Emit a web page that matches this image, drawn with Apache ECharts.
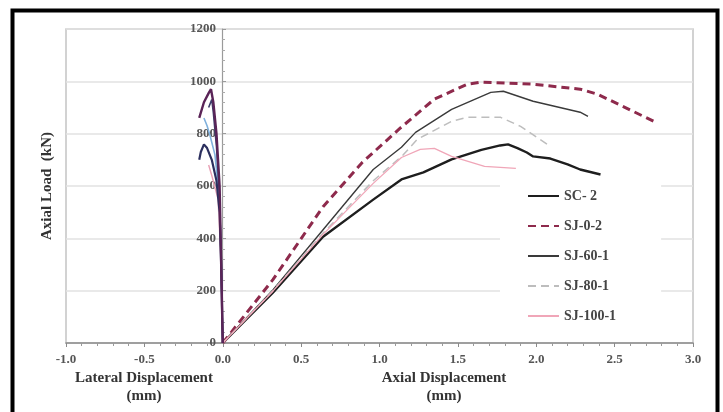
<!DOCTYPE html>
<html>
<head>
<meta charset="utf-8">
<script src="https://cdn.jsdelivr.net/npm/echarts@6/dist/echarts.min.js"></script>
<style>
  html, body { margin: 0; padding: 0; background: #fff; }
  #chart { width: 723px; height: 412px; }
</style>
</head>
<body>
<div id="chart"></div>
<script>
// axial curves (x = axial displacement mm, y = load kN)
var sc2 = [[0,0],[0.32,192],[0.64,406],[0.96,548],[1.14,625],[1.28,652],[1.46,702],[1.65,738],[1.77,755],[1.82,759],[1.88,745],[1.94,728],[1.98,713],[2.09,705],[2.2,683],[2.28,663],[2.41,644]];
var sj02 = [[0,0],[0.32,242],[0.64,521],[0.89,690],[1.13,820],[1.35,932],[1.56,989],[1.65,997],[1.98,989],[2.28,970],[2.39,951],[2.55,905],[2.75,847]];
var sj601 = [[0,0],[0.32,203],[0.64,433],[0.96,663],[1.14,748],[1.23,805],[1.46,893],[1.71,958],[1.79,962],[1.98,924],[2.28,882],[2.33,866]];
var sj801 = [[0,0],[0.32,200],[0.64,420],[0.96,620],[1.15,718],[1.24,778],[1.46,847],[1.56,863],[1.77,863],[1.9,828],[2.09,751]];
var sj1001 = [[0,0],[0.32,198],[0.64,415],[0.96,610],[1.14,709],[1.26,740],[1.35,744],[1.46,713],[1.67,675],[1.87,667]];

// lateral curves (negative side)
var sc2Lat = [[0,0],[-0.01,300],[-0.02,500],[-0.04,620],[-0.07,700],[-0.1,745],[-0.12,759],[-0.14,730],[-0.15,700]];
var sj02Lat = [[0,0],[-0.01,300],[-0.02,600],[-0.04,800],[-0.06,920],[-0.075,970],[-0.09,955],[-0.12,920],[-0.15,860]];
var sj601Lat = [[0,0],[-0.01,300],[-0.02,550],[-0.04,750],[-0.06,880],[-0.07,930],[-0.09,900]];
var sj801Lat = [[0,0],[-0.01,300],[-0.02,550],[-0.05,720],[-0.08,790],[-0.1,830],[-0.12,860]];
var sj1001Lat = [[0,0],[-0.01,300],[-0.03,550],[-0.07,640],[-0.09,680]];

var names = ['SC- 2', 'SJ-0-2', 'SJ-60-1', 'SJ-80-1', 'SJ-100-1'];

var font = 'Liberation Serif';

var chart = echarts.init(document.getElementById('chart'));

function line(name, data, color, width, type) {
  return {
    name: name, type: 'line', data: data, symbol: 'none',
    lineStyle: { color: color, width: width, type: type || 'solid' },
    itemStyle: { color: color },
    z: 3
  };
}

chart.setOption({
  animation: false,
  backgroundColor: '#fff',
  grid: {
    left: 66, right: 30, top: 29, bottom: 69,
    show: true, borderColor: '#c4c4c4', borderWidth: 1.5
  },
  legend: {
    data: names,
    orient: 'vertical',
    left: 500, top: 183,
    padding: [6, 45, 6, 27],
    itemGap: 16,
    itemWidth: 31, itemHeight: 14,
    backgroundColor: '#fff',
    itemStyle: { opacity: 0 },
    textStyle: { fontFamily: font, fontWeight: 'bold', fontSize: 14, color: '#444' }
  },
  xAxis: {
    type: 'value', min: -1, max: 3, interval: 0.5,
    axisLine: { lineStyle: { color: '#8a8a8a', width: 1.5 } },
    axisTick: { length: 4, lineStyle: { color: '#8a8a8a' } },
    minorTick: { show: true, splitNumber: 5, length: 3, lineStyle: { color: '#9a9a9a' } },
    splitLine: { show: false },
    axisLabel: {
      margin: 10,
      formatter: function (v) { return v.toFixed(1); },
      fontFamily: font, fontWeight: 'bold', fontSize: 13, color: '#555'
    }
  },
  yAxis: {
    type: 'value', min: 0, max: 1200, interval: 200,
    offset: -156,
    axisLine: { show: true, onZero: false, lineStyle: { color: '#9a9a9a', width: 1.2 } },
    axisTick: { show: true, inside: true, length: 4, lineStyle: { color: '#9a9a9a' } },
    minorTick: { show: true, splitNumber: 5, length: 3, lineStyle: { color: '#aaa' } },
    splitLine: { lineStyle: { color: '#e2e2e2', width: 1.5 } },
    axisLabel: {
      margin: 6,
      formatter: function (v) { return String(v); },
      fontFamily: font, fontWeight: 'bold', fontSize: 13, color: '#555'
    }
  },
  graphic: [
    {
      type: 'rect', left: 10, top: 8, z: 100, silent: true,
      shape: { width: 705, height: 430 },
      style: { fill: 'none', stroke: '#000', lineWidth: 4 }
    },
    {
      type: 'text', x: 47, y: 186, rotation: Math.PI / 2, z: 100,
      style: {
        text: 'Axial Load  (kN)', fontFamily: font, fontWeight: 'bold', fontSize: 15,
        fill: '#333', textAlign: 'center', textVerticalAlign: 'middle'
      }
    },
    {
      type: 'text', x: 144, y: 371, z: 100,
      style: {
        text: 'Lateral Displacement', fontFamily: font, fontWeight: 'bold', fontSize: 15,
        fill: '#333', textAlign: 'center'
      }
    },
    {
      type: 'text', x: 144, y: 389, z: 100,
      style: {
        text: '(mm)', fontFamily: font, fontWeight: 'bold', fontSize: 15,
        fill: '#333', textAlign: 'center'
      }
    },
    {
      type: 'text', x: 444, y: 371, z: 100,
      style: {
        text: 'Axial Displacement', fontFamily: font, fontWeight: 'bold', fontSize: 15,
        fill: '#333', textAlign: 'center'
      }
    },
    {
      type: 'text', x: 444, y: 389, z: 100,
      style: {
        text: '(mm)', fontFamily: font, fontWeight: 'bold', fontSize: 15,
        fill: '#333', textAlign: 'center'
      }
    }
  ],
  series: [
    line('SC- 2', sc2, '#1e1e1e', 2.4),
    line('SJ-0-2', sj02, '#8e2a4c', 3, [8, 5]),
    line('SJ-60-1', sj601, '#3a3a3a', 1.4),
    line('SJ-80-1', sj801, '#bdbdbd', 1.5, [8, 5]),
    line('SJ-100-1', sj1001, '#f0a6b8', 1.3),
    line('lat-SJ-100-1', sj1001Lat, '#e9a0b5', 1.4),
    line('lat-SJ-80-1', sj801Lat, '#7fb0dc', 1.6),
    line('lat-SC-2', sc2Lat, '#2b2f5e', 2.2),
    line('lat-SJ-60-1', sj601Lat, '#3d3d6b', 1.6),
    line('lat-SJ-0-2', sj02Lat, '#5a2457', 2.4)
  ]
});
</script>
</body>
</html>
